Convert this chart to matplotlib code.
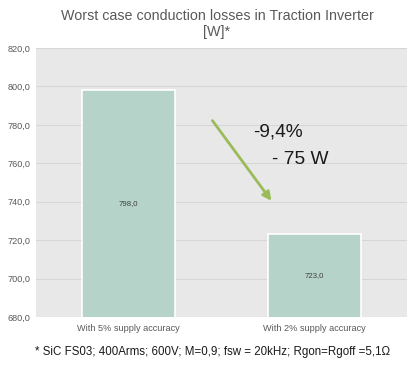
import numpy as np
import matplotlib
matplotlib.use("Agg")
import matplotlib.pyplot as plt
from matplotlib.ticker import FuncFormatter

categories = ['With 5% supply accuracy', 'With 2% supply accuracy']
losses = [798.0, 723.0]
yticks = [680, 700, 720, 740, 760, 780, 800, 820]

plt.rcParams['font.family'] = ['Liberation Sans', 'DejaVu Sans']

fig = plt.figure(figsize=(4.18, 3.67), dpi=100)
ax = fig.add_axes([36 / 418, 1 - 317 / 367, 371 / 418, 269 / 367])

ax.set_facecolor('#e8e8e8')
x = np.arange(len(categories))
bars = ax.bar(x, losses, width=0.5, color='#b6d3ca', edgecolor='white', linewidth=1.2, zorder=3)

ax.set_xlim(-0.5, 1.5)
ax.set_ylim(680, 820)
ax.set_yticks(yticks)
ax.yaxis.set_major_formatter(FuncFormatter(lambda v, p: f"{v:.1f}".replace('.', ',')))
ax.yaxis.grid(True, color='#d6d6d6', linewidth=0.8, zorder=0)
ax.tick_params(axis='y', length=0, labelsize=6.6, labelcolor='#595959', pad=4)
ax.set_xticks(x)
ax.set_xticklabels(categories)
ax.tick_params(axis='x', length=0, labelsize=6.6, labelcolor='#595959', pad=5)
for s in ax.spines.values():
    s.set_visible(False)

for b, v in zip(bars, losses):
    ax.text(b.get_x() + b.get_width() / 2, (680 + v) / 2, f"{v:.1f}".replace('.', ','),
            ha='center', va='center', fontsize=5.6, color='#404040', zorder=4)

ax.annotate('', xy=(0.778, 739.3), xytext=(0.442, 783.4),
            arrowprops=dict(arrowstyle='-|>,head_length=0.5,head_width=0.25',
                            color='#9bbb59', lw=2.0), zorder=5)
ax.text(0.668, 776.3, '-9,4%', fontsize=13.8, color='#1a1a1a', va='center', ha='left', zorder=5)
ax.text(0.77, 762.2, '- 75 W', fontsize=13.8, color='#1a1a1a', va='center', ha='left', zorder=5)

fig.text(217 / 418, 1 - 24 / 367, 'Worst case conduction losses in Traction Inverter\n[W]*',
         ha='center', va='center', fontsize=10.3, color='#595959', linespacing=1.25)
fig.text(213 / 418, 1 - 352 / 367,
         '* SiC FS03; 400Arms; 600V; M=0,9; fsw = 20kHz; Rgon=Rgoff =5,1\u03a9',
         ha='center', va='center', fontsize=8.3, color='#1a1a1a')

fig.savefig('out.png', dpi=100)
